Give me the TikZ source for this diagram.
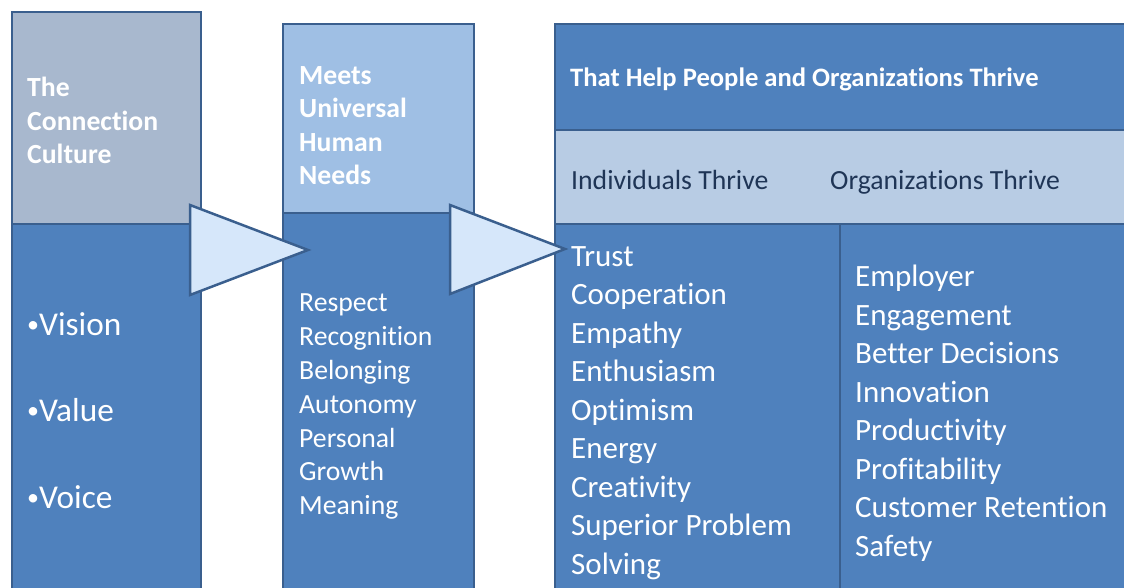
\documentclass[tikz,border=0pt]{standalone}
\usepackage{fontspec}
\setmainfont{Carlito}[Ligatures=NoCommon]
\usetikzlibrary{positioning}

\definecolor{boxblue}{HTML}{4F81BD}
\definecolor{edge}{HTML}{3A5F8E}
\definecolor{greyhead}{HTML}{A8B8CE}
\definecolor{lighthead}{HTML}{9FBFE4}
\definecolor{subhead}{HTML}{B8CCE4}
\definecolor{arrowfill}{HTML}{D6E7FA}
\definecolor{darktext}{HTML}{1F3556}

\newcommand{\smallbullet}{\raisebox{3pt}{\fontsize{24}{24}\selectfont •}}

\begin{document}
\begin{tikzpicture}[x=1pt, y=-1pt,
    panel/.style = {draw=edge, line width=2.5pt, line join=miter},
    head/.style = {font=\bfseries\fontsize{27.7}{33.6}\selectfont, text=white, align=left, inner sep=0pt, anchor=north west},
    item/.style = {font=\fontsize{31}{38.5}\selectfont, text=white, align=left, inner sep=0pt, anchor=north west},
    pointer/.style = {draw=edge, line width=2.5pt, fill=arrowfill, line join=miter}]

    \useasboundingbox (0,0) rectangle (1124,588);
    \clip (0,0) rectangle (1124,588);

    %Kaesten
    \draw[panel, fill=boxblue] (12,224) rectangle (201,610);
    \draw[panel, fill=greyhead] (12,12) rectangle (201,224);

    \draw[panel, fill=boxblue] (283,213) rectangle (474,610);
    \draw[panel, fill=lighthead] (283,24) rectangle (474,213);

    \draw[panel, fill=boxblue] (555,24) rectangle (1140,130);
    \draw[panel, fill=subhead] (555,130) rectangle (1140,224);
    \draw[panel, fill=boxblue] (555,224) rectangle (840,610);
    \draw[panel, fill=boxblue] (840,224) rectangle (1140,610);

    %Pfeile
    \draw[pointer] (190,205) -- (308,250) -- (190,295) -- cycle;
    \draw[pointer] (450,205) -- (565,249) -- (450,294) -- cycle;

    %Texte
    \node[head] (culture) at (27,77) {The\\Connection\\Culture};
    \node[item, font=\fontsize{33.3}{86.5}\selectfont] (vvv) at (27,312) {\smallbullet Vision\\\smallbullet Value\\\smallbullet Voice};

    \node[head] (needs) at (299,66) {Meets\\Universal\\Human\\Needs};
    \node[item, font=\fontsize{27.7}{33.8}\selectfont] (needlist) at (299,294) {Respect\\Recognition\\Belonging\\Autonomy\\Personal\\Growth\\Meaning};

    \node[head, font=\bfseries\fontsize{26.6}{30}\selectfont] (thrive) at (570,68) {That Help People and Organizations Thrive};
    \node[item, font=\fontsize{27.7}{30}\selectfont, text=darktext] (indiv) at (571,170) {Individuals Thrive};
    \node[item, font=\fontsize{27.7}{30}\selectfont, text=darktext] (orgs) at (830,170) {Organizations Thrive};

    \node[item] (indlist) at (571,246) {Trust\\Cooperation\\Empathy\\Enthusiasm\\Optimism\\Energy\\Creativity\\Superior Problem\\Solving};
    \node[item] (orglist) at (855,265) {Employer\\Engagement\\Better Decisions\\Innovation\\Productivity\\Profitability\\Customer Retention\\Safety};
\end{tikzpicture}
\end{document}
